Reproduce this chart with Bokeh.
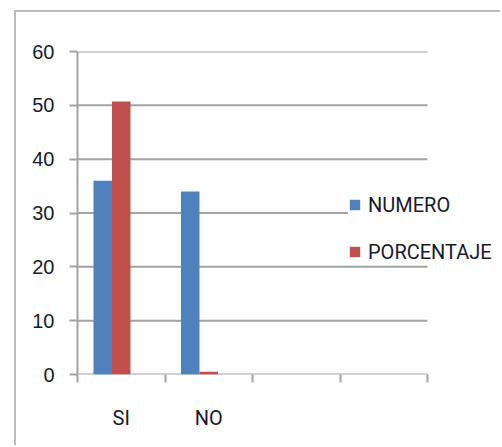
from bokeh.plotting import figure
from bokeh.models import ColumnDataSource, FixedTicker, Range1d
from bokeh.embed import file_html
from bokeh.resources import INLINE

# Survey answers: count and percentage per answer
categories = ["SI", "NO", "", ""]
numero = [36, 34]
porcentaje = [50.7, 0.5]
y_ticks = [0, 10, 20, 30, 40, 50, 60]

BLUE = "#4f81bd"
RED = "#c0504d"
GRID = "#a3a3a3"
TEXT = "#1a1a2a"
LABEL_FONT = "Roboto"

n_cat = len(categories)
bar_w = 0.2114  # three series slots per category, third slot left empty
centers = [i + 0.5 for i in range(len(numero))]

src_num = ColumnDataSource(dict(x=[c - bar_w for c in centers], top=numero))
src_pct = ColumnDataSource(dict(x=centers, top=porcentaje))
src_grid = ColumnDataSource(dict(x0=[0] * len(y_ticks), x1=[n_cat] * len(y_ticks),
                                 y=y_ticks))

# the frame runs on past the last category so the legend has room beside the bars
p = figure(
    width=486, height=435,
    output_backend="svg", toolbar_location=None,
    x_range=Range1d(0, n_cat + 0.8), y_range=Range1d(y_ticks[0], y_ticks[-1]),
    min_border_left=61, min_border_right=5, min_border_top=39, min_border_bottom=73,
    background_fill_color="white", border_fill_color="white",
)
p.margin = (10, 0, 0, 14)
p.styles = {"border-left": "2px solid #bcbcbc", "border-top": "2px solid #bcbcbc"}
p.outline_line_color = None

# horizontal gridlines (the one at 0 doubles as the category axis line)
p.segment(x0="x0", x1="x1", y0="y", y1="y", source=src_grid,
          line_color=GRID, line_width=2)

p.vbar(x="x", top="top", width=bar_w, source=src_num, fill_color=BLUE,
       line_color=None, legend_label="NUMERO")
p.vbar(x="x", top="top", width=bar_w, source=src_pct, fill_color=RED,
       line_color=None, legend_label="PORCENTAJE")

# y axis
p.yaxis.ticker = FixedTicker(ticks=y_ticks)
p.yaxis.axis_line_color = GRID
p.yaxis.axis_line_width = 2
p.yaxis.major_tick_line_color = GRID
p.yaxis.major_tick_line_width = 2
p.yaxis.major_tick_out = 8
p.yaxis.major_tick_in = 0
p.yaxis.minor_tick_line_color = None
p.yaxis.major_label_standoff = 15
p.yaxis.major_label_text_font = "Liberation Sans"
p.yaxis.major_label_text_font_size = "20px"
p.yaxis.major_label_text_color = TEXT

# x axis: labels centred on categories, tick marks on category boundaries
p.xaxis.ticker = FixedTicker(ticks=[i + 0.5 for i in range(n_cat)],
                             minor_ticks=list(range(n_cat + 1)))
p.xaxis.major_label_overrides = {i + 0.5: c for i, c in enumerate(categories)}
p.xaxis.axis_line_color = None
p.xaxis.major_tick_line_color = None
p.xaxis.major_tick_out = 0
p.xaxis.major_tick_in = 0
p.xaxis.minor_tick_line_color = GRID
p.xaxis.minor_tick_line_width = 2
p.xaxis.minor_tick_out = 8
p.xaxis.minor_tick_in = 0
p.xaxis.major_label_standoff = 23
p.xaxis.major_label_text_font = LABEL_FONT
p.xaxis.major_label_text_font_size = "20px"
p.xaxis.major_label_text_color = TEXT

p.xgrid.grid_line_color = None
p.ygrid.grid_line_color = None

leg = p.legend[0]
leg.location = (271, 110)
leg.orientation = "vertical"
leg.padding = 0
leg.margin = 0
leg.spacing = 22
leg.glyph_width = 13
leg.glyph_height = 13
leg.label_height = 25
leg.label_standoff = 7
leg.border_line_color = None
leg.background_fill_color = "white"
leg.background_fill_alpha = 1.0
leg.label_text_font = LABEL_FONT
leg.label_text_font_size = "20px"
leg.label_text_color = TEXT

open("out.html", "w").write(file_html(p, INLINE))
